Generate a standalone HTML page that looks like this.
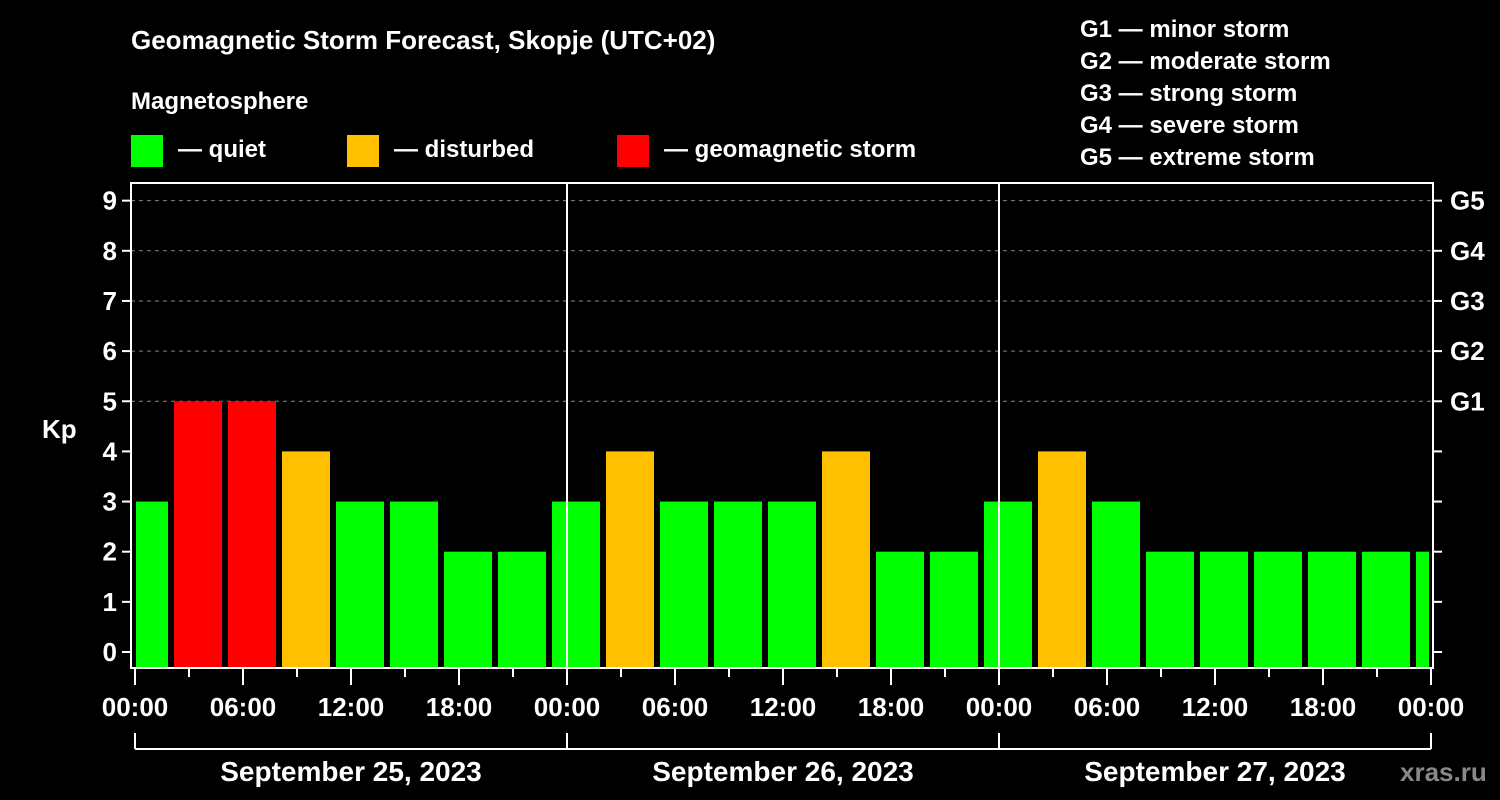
<!DOCTYPE html>
<html><head><meta charset="utf-8"><style>
body{margin:0;background:#000;}
svg{display:block;font-family:"Liberation Sans",Arial,sans-serif;font-weight:bold;}
</style></head><body>
<svg id="chart" width="1500" height="800" xmlns="http://www.w3.org/2000/svg">
<rect width="1500" height="800" fill="#000"/>
<text x="131" y="49" fill="#fff" font-size="26">Geomagnetic Storm Forecast, Skopje (UTC+02)</text>
<text x="131" y="109" fill="#fff" font-size="24">Magnetosphere</text>
<g><rect x="131" y="135" width="32" height="32" fill="#00ff00"/><text x="178" y="157" fill="#fff" font-size="24">— quiet</text></g>
<g><rect x="347" y="135" width="32" height="32" fill="#ffc000"/><text x="394" y="157" fill="#fff" font-size="24">— disturbed</text></g>
<g><rect x="617" y="135" width="32" height="32" fill="#ff0000"/><text x="664" y="157" fill="#fff" font-size="24">— geomagnetic storm</text></g>
<g fill="#fff" font-size="24">
<text x="1080" y="37">G1 — minor storm</text><text x="1080" y="69">G2 — moderate storm</text><text x="1080" y="101">G3 — strong storm</text><text x="1080" y="133">G4 — severe storm</text><text x="1080" y="165">G5 — extreme storm</text>
</g>
<text x="42" y="438" fill="#fff" font-size="26">Kp</text>
<g id="grid"></g><g id="bars"></g><g id="axes"></g>
<text x="1400" y="781" fill="#888" font-size="26">xras.ru</text>
</svg>
<script>
const kpValues=[3,5,5,4,3,3,2,2,3,4,3,3,3,4,2,2,3,4,3,2,2,2,2,2,2];
const yTicks=[0,1,2,3,4,5,6,7,8,9];
const gLabels=["G1","G2","G3","G4","G5"];
const dayLabels=["September 25, 2023","September 26, 2023","September 27, 2023"];
const hourLabels=["00:00","06:00","12:00","18:00"];
const NS="http://www.w3.org/2000/svg";
const L=131,R=1433,T=183,B=668,X0=135,PXH=18;
const yS=v=>652-v*50.15;
const xS=h=>X0+h*PXH;
function mk(p,tag,a){const e=document.createElementNS(NS,tag);for(const k in a)e.setAttribute(k,a[k]);p.appendChild(e);return e;}
const grid=document.getElementById('grid'),bars=document.getElementById('bars'),ax=document.getElementById('axes');
for(let v=5;v<=9;v++){const l=mk(grid,'line',{x1:L,x2:R,y1:yS(v),y2:yS(v),stroke:'#888','stroke-dasharray':'4,4'});

}
kpValues.forEach((v,i)=>{
 const start=-1+3*i; // local hour start (UTC+2 offset, 3h bins)
 let x1=xS(start)+3,x2=xS(start+3)-3;
 x1=Math.max(x1,X0+1);x2=Math.min(x2,R-4);
 const c=v>=5?'#ff0000':(v>=4?'#ffc000':'#00ff00');
 const r=mk(bars,'rect',{x:x1,y:yS(v),width:x2-x1,height:B-yS(v),fill:c});
 
 
});
for(let d=1;d<3;d++){const l=mk(ax,'line',{x1:xS(24*d),x2:xS(24*d),y1:T,y2:B,stroke:'#fff','stroke-width':2});

}
const f=mk(ax,'rect',{x:L,y:T,width:R-L,height:B-T,fill:'none',stroke:'#fff','stroke-width':2});


yTicks.forEach(v=>{
 mk(ax,'line',{x1:L-9,x2:L,y1:yS(v),y2:yS(v),stroke:'#fff','stroke-width':2});
 mk(ax,'line',{x1:R,x2:R+9,y1:yS(v),y2:yS(v),stroke:'#fff','stroke-width':2});
 const t=mk(ax,'text',{x:L-14,y:yS(v)+9,fill:'#fff','font-size':26,'text-anchor':'end'});t.textContent=v;
 
 
});
gLabels.forEach((g,i)=>{const t=mk(ax,'text',{x:1450,y:yS(i+5)+9,fill:'#fff','font-size':26});t.textContent=g;
 
 });
for(let h=0;h<=72;h+=3){const maj=h%6==0;mk(ax,'line',{x1:xS(h),x2:xS(h),y1:B,y2:B+(maj?17:9),stroke:'#fff','stroke-width':2});}
for(let h=0;h<=72;h+=6){const t=mk(ax,'text',{x:xS(h),y:716,fill:'#fff','font-size':26,'text-anchor':'middle'});t.textContent=hourLabels[(h/6)%4];
 
 }
mk(ax,'line',{x1:xS(0),x2:xS(72),y1:749,y2:749,stroke:'#fff','stroke-width':2});
for(let d=0;d<=3;d++)mk(ax,'line',{x1:xS(24*d),x2:xS(24*d),y1:733,y2:749,stroke:'#fff','stroke-width':2});
dayLabels.forEach((s,d)=>{const t=mk(ax,'text',{x:xS(24*d+12),y:781,fill:'#fff','font-size':28,'text-anchor':'middle'});t.textContent=s;
 
 });
</script>
</body></html>
